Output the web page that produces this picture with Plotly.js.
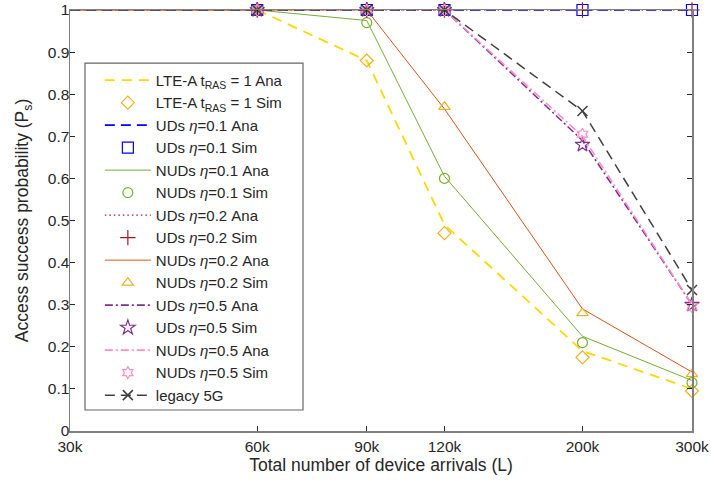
<!DOCTYPE html>
<html>
<head>
<meta charset="utf-8">
<script src="https://cdn.plot.ly/plotly-3.0.1.min.js"></script>
<style>html,body{margin:0;padding:0;background:#fff;}#chart{width:711px;height:486px;}</style>
</head>
<body>
<div id="chart"></div>
<script>
// Data
const arrivals = [30000, 60000, 90000, 120000, 200000, 300000];
const tickLabels = ['30k', '60k', '90k', '120k', '200k', '300k'];
const yTicks = [0, 0.1, 0.2, 0.3, 0.4, 0.5, 0.6, 0.7, 0.8, 0.9, 1];
const yTickLabels = ['0', '0.1', '0.2', '0.3', '0.4', '0.5', '0.6', '0.7', '0.8', '0.9', '1'];

const lteAna    = [1, 1, 0.88, 0.49, 0.19, 0.10];
const lteSim    = [1, 1, 0.88, 0.47, 0.175, 0.095];
const uds01Ana  = [1, 1, 1, 1, 1, 1];
const uds01Sim  = [1, 1, 1, 1, 1, 1];
const nuds01Ana = [1, 1, 0.975, 0.605, 0.225, 0.12];
const nuds01Sim = [1, 1, 0.97, 0.60, 0.21, 0.115];
const uds02Ana  = [1, 1, 1, 1, 1, 1];
const uds02Sim  = [1, 1, 1, 1, 1, 1];
const nuds02Ana = [1, 1, 1, 0.765, 0.29, 0.14];
const nuds02Sim = [1, 1, 1, 0.77, 0.28, 0.135];
const uds05Ana  = [1, 1, 1, 1, 0.69, 0.30];
const uds05Sim  = [1, 1, 1, 1, 0.68, 0.30];
const nuds05Ana = [1, 1, 1, 1, 0.70, 0.30];
const nuds05Sim = [1, 1, 1, 1, 0.705, 0.295];
const legacy5G  = [1, 1, 1, 1, 0.76, 0.335];

const names = [
  'LTE-A t<sub>RAS</sub> = 1 Ana', 'LTE-A t<sub>RAS</sub> = 1 Sim',
  'UDs <i>η</i>=0.1 Ana', 'UDs <i>η</i>=0.1 Sim',
  'NUDs <i>η</i>=0.1 Ana', 'NUDs <i>η</i>=0.1 Sim',
  'UDs <i>η</i>=0.2 Ana', 'UDs <i>η</i>=0.2 Sim',
  'NUDs <i>η</i>=0.2 Ana', 'NUDs <i>η</i>=0.2 Sim',
  'UDs <i>η</i>=0.5 Ana', 'UDs <i>η</i>=0.5 Sim',
  'NUDs <i>η</i>=0.5 Ana', 'NUDs <i>η</i>=0.5 Sim',
  'legacy 5G'
];

function ana(y, name, color, width, dash) {
  return {x: arrivals, y: y, name: name, mode: 'lines', type: 'scatter',
    line: {color: color, width: width, dash: dash}, cliponaxis: false};
}
function sim(y, name, color, symbol, size) {
  return {x: arrivals, y: y, name: name, mode: 'markers', type: 'scatter',
    marker: {symbol: symbol, size: size, color: color, line: {color: color, width: 1.2}},
    cliponaxis: false};
}

const traces = [
  ana(lteAna, names[0], '#FFD700', 1.8, '10px,7px'),
  sim(lteSim, names[1], '#EDB120', 'diamond-open', 10),
  ana(uds01Ana, names[2], '#0000FF', 1.6, '10px,6px'),
  sim(uds01Sim, names[3], '#0000FF', 'square-open', 11),
  ana(nuds01Ana, names[4], '#77AC30', 1, 'solid'),
  sim(nuds01Sim, names[5], '#77AC30', 'circle-open', 10),
  ana(uds02Ana, names[6], '#A2142F', 1.2, '1.5px,3px'),
  sim(uds02Sim, names[7], '#A2142F', 'cross-thin-open', 11),
  ana(nuds02Ana, names[8], '#D95319', 1, 'solid'),
  sim(nuds02Sim, names[9], '#EDB120', 'triangle-up-open', 10),
  ana(uds05Ana, names[10], '#7E2F8E', 1.6, '8px,3px,2px,3px'),
  sim(uds05Sim, names[11], '#7E2F8E', 'star-open', 11),
  ana(nuds05Ana, names[12], '#FF8CC8', 1.6, '8px,3px,2px,3px'),
  sim(nuds05Sim, names[13], '#FF8CC8', 'hexagram-open', 9),
  {x: arrivals, y: legacy5G, name: names[14], mode: 'lines+markers', type: 'scatter',
    line: {color: '#404040', width: 1.5, dash: '10px,6px'},
    marker: {symbol: 'x-thin-open', size: 10, color: '#404040', line: {color: '#404040', width: 1.5}},
    cliponaxis: false}
];

const font = {family: 'Liberation Sans, Arial, sans-serif', color: '#262626'};

const layout = {
  width: 711, height: 486,
  margin: {l: 70, r: 19, t: 10, b: 55},
  paper_bgcolor: '#fff', plot_bgcolor: '#fff',
  font: Object.assign({size: 15}, font),
  showlegend: true,
  xaxis: {
    type: 'log',
    range: [Math.log10(30000), Math.log10(300000)],
    tickvals: arrivals, ticktext: tickLabels,
    ticks: 'inside', ticklen: 5, tickcolor: '#262626',
    showgrid: false, zeroline: false,
    showline: true, linecolor: '#808080', linewidth: 1.5, mirror: 'ticks',
    tickfont: {size: 15.5},
    ticklabelstandoff: 1,
    title: {text: 'Total number of device arrivals (L)', font: {size: 17.5}, standoff: 4}
  },
  yaxis: {
    range: [0, 1],
    tickvals: yTicks, ticktext: yTickLabels,
    ticks: 'inside', ticklen: 5, tickcolor: '#262626',
    showgrid: false, zeroline: false,
    showline: true, linecolor: '#808080', linewidth: 1.5, mirror: 'ticks',
    tickfont: {size: 15.5},
    ticklabelstandoff: -4,
    title: {text: 'Access success probability (P<sub>s</sub>)', font: {size: 17.5}, standoff: 14}
  },
  shapes: [{
    type: 'rect', xref: 'paper', yref: 'paper',
    x0: 0.0241, x1: 0.3746, y0: 0.0499, y1: 0.874,
    line: {color: '#666666', width: 1.2}, fillcolor: '#ffffff', layer: 'above'
  }],
  legend: {
    x: 0.048, y: 0.872, xanchor: 'left', yanchor: 'top',
    bgcolor: 'rgba(0,0,0,0)', borderwidth: 0,
    font: {size: 15},
    itemwidth: 46,
    tracegroupgap: 0
  }
};

Plotly.newPlot('chart', traces, layout, {displayModeBar: false, staticPlot: true});
</script>
</body>
</html>
